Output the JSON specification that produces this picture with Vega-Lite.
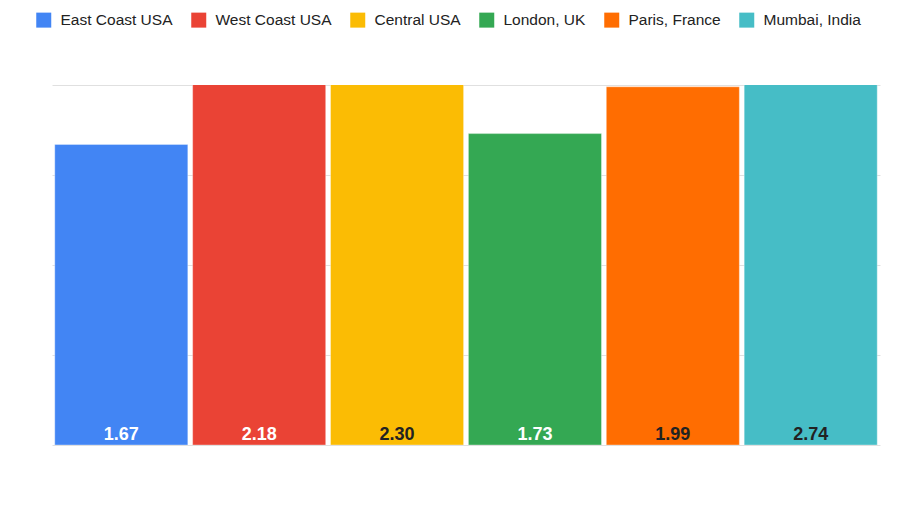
{
  "$schema": "https://vega.github.io/schema/vega-lite/v6.json",
  "width": 828,
  "height": 360,
  "autosize": {"type": "none"},
  "padding": {"left": 52, "top": 85, "right": 20, "bottom": 75},
  "background": "white",
  "config": {
    "view": {"stroke": null},
    "font": "Liberation Sans"
  },
  "data": {
    "values": [
      {"city": "East Coast USA", "value": 1.67},
      {"city": "West Coast USA", "value": 2.18},
      {"city": "Central USA", "value": 2.30},
      {"city": "London, UK", "value": 1.73},
      {"city": "Paris, France", "value": 1.99},
      {"city": "Mumbai, India", "value": 2.74}
    ]
  },
  "encoding": {
    "x": {"field": "city", "type": "nominal", "sort": null, "axis": null,
          "scale": {"paddingInner": 0.035, "paddingOuter": 0.02}}
  },
  "layer": [
    {
      "mark": {"type": "bar", "clip": true, "stroke": "white", "strokeOpacity": 0.35, "strokeWidth": 1},
      "encoding": {
        "y": {"field": "value", "type": "quantitative",
              "scale": {"domain": [0, 2], "nice": false, "zero": true},
              "axis": {"values": [0, 0.5, 1, 1.5, 2], "labels": false, "ticks": false, "domain": false,
                       "title": null, "gridColor": "#e0e0e0", "gridWidth": 1}},
        "color": {"field": "city", "type": "nominal", "sort": null,
                  "scale": {"domain": ["East Coast USA", "West Coast USA", "Central USA", "London, UK", "Paris, France", "Mumbai, India"],
                            "range": ["#4285F4", "#EA4335", "#FBBC04", "#34A853", "#FF6D01", "#46BDC6"]},
                  "legend": {"title": null, "orient": "none", "direction": "horizontal", "columns": 6,
                             "legendX": -16, "legendY": -73,
                             "symbolType": "square", "symbolSize": 225, "symbolStrokeWidth": 0, "symbolOpacity": 1,
                             "labelFontSize": 15.5, "labelFont": "Liberation Sans", "labelColor": "#222222",
                             "labelOffset": 9, "columnPadding": 18}}
      }
    },
    {
      "mark": {"type": "text", "baseline": "alphabetic", "dy": -5, "fontSize": 18, "fontWeight": "bold", "font": "Liberation Sans"},
      "encoding": {
        "y": {"datum": 0, "type": "quantitative"},
        "text": {"field": "value", "type": "quantitative", "format": ".2f"},
        "color": {
          "condition": {"test": "indexof(['East Coast USA','West Coast USA','London, UK'], datum.city) >= 0", "value": "white"},
          "value": "#222222"
        }
      }
    }
  ]
}
